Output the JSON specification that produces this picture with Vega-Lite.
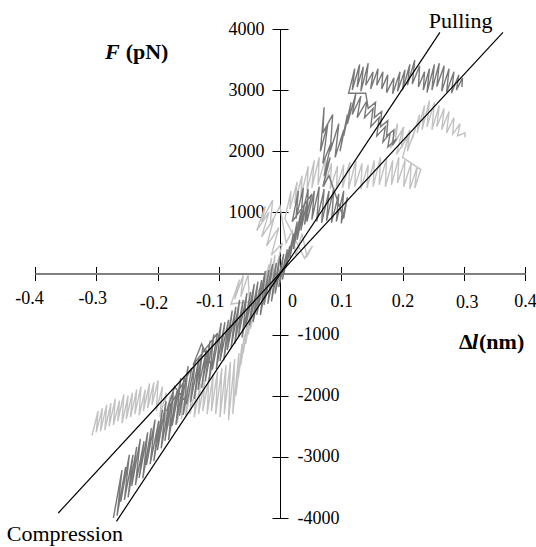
{
"$schema": "https://vega.github.io/schema/vega-lite/v6.json",
"width": 490, "height": 489,
"autosize": {"type": "none"},
"padding": {"left": 35, "top": 29, "right": 11, "bottom": 29},
"background": "white",
"config": {"view": {"stroke": null}, "axis": {"grid": false, "labelFont": "Liberation Serif", "labelFontSize": 18, "labelColor": "black", "title": null, "labelFlush": false, "labelOverlap": false, "labelBound": false}},
"datasets": {
"light": [
{"x":-0.307,"y":-2650},{"x":-0.297,"y":-2250},{"x":-0.300,"y":-2600},{"x":-0.290,"y":-2200},{"x":-0.293,"y":-2580},{"x":-0.283,"y":-2150},{"x":-0.286,"y":-2560},{"x":-0.276,"y":-2120},{"x":-0.279,"y":-2500},{"x":-0.269,"y":-2050},{"x":-0.272,"y":-2480},{"x":-0.262,"y":-2080},{"x":-0.265,"y":-2420},{"x":-0.255,"y":-1980},{"x":-0.258,"y":-2450},{"x":-0.248,"y":-2000},{"x":-0.251,"y":-2380},{"x":-0.241,"y":-1950},{"x":-0.244,"y":-2350},{"x":-0.234,"y":-1900},{"x":-0.237,"y":-2300},{"x":-0.227,"y":-1850},{"x":-0.230,"y":-2320},{"x":-0.220,"y":-1900},{"x":-0.223,"y":-2250},{"x":-0.213,"y":-1800},{"x":-0.216,"y":-2200},{"x":-0.206,"y":-1780},{"x":-0.209,"y":-2150},{"x":-0.199,"y":-1750},
{"x":-0.202,"y":-2250},{"x":-0.192,"y":-1850},{"x":-0.196,"y":-2350},{"x":-0.186,"y":-1950},{"x":-0.189,"y":-2450},{"x":-0.179,"y":-2000},{"x":-0.182,"y":-2500},{"x":-0.172,"y":-2050},{"x":-0.175,"y":-2400},{"x":-0.165,"y":-1950},{"x":-0.168,"y":-2450},{"x":-0.158,"y":-1900},{"x":-0.161,"y":-2380},{"x":-0.151,"y":-1850},{"x":-0.154,"y":-2350},{"x":-0.144,"y":-1800},{"x":-0.147,"y":-2300},{"x":-0.137,"y":-1850},{"x":-0.140,"y":-2350},{"x":-0.130,"y":-1800},{"x":-0.133,"y":-2300},{"x":-0.123,"y":-1750},{"x":-0.126,"y":-2250},{"x":-0.116,"y":-1700},{"x":-0.119,"y":-2300},{"x":-0.109,"y":-1650},{"x":-0.112,"y":-2250},{"x":-0.102,"y":-1600},{"x":-0.105,"y":-2300},{"x":-0.095,"y":-1550},{"x":-0.098,"y":-2350},{"x":-0.088,"y":-1500},{"x":-0.091,"y":-2300},{"x":-0.081,"y":-1450},{"x":-0.084,"y":-2400},{"x":-0.074,"y":-1400},{"x":-0.077,"y":-2300},{"x":-0.067,"y":-1300},
{"x":-0.072,"y":-2000},{"x":-0.062,"y":-1150},{"x":-0.068,"y":-1700},{"x":-0.058,"y":-1000},{"x":-0.064,"y":-1500},{"x":-0.054,"y":-850},{"x":-0.060,"y":-1300},{"x":-0.050,"y":-700},{"x":-0.056,"y":-1150},{"x":-0.046,"y":-550},{"x":-0.052,"y":-1000},{"x":-0.042,"y":-450},
{"x":-0.080,"y":-500},{"x":-0.066,"y":-100},{"x":-0.074,"y":-420},{"x":-0.060,"y":-30},{"x":-0.064,"y":-380},{"x":-0.052,"y":-20},
{"x":-0.048,"y":-900},{"x":-0.038,"y":-350},{"x":-0.044,"y":-780},{"x":-0.034,"y":-250},{"x":-0.040,"y":-650},{"x":-0.030,"y":-150},{"x":-0.036,"y":-550},{"x":-0.026,"y":-50},{"x":-0.032,"y":-450},{"x":-0.022,"y":50},{"x":-0.028,"y":-350},{"x":-0.018,"y":150},{"x":-0.024,"y":-250},{"x":-0.014,"y":250},{"x":-0.018,"y":-150},{"x":-0.008,"y":300},{"x":-0.012,"y":-50},
{"x":-0.006,"y":100},{"x":0.004,"y":500},{"x":-0.014,"y":300},{"x":-0.002,"y":750},{"x":-0.022,"y":450},{"x":-0.010,"y":900},{"x":-0.030,"y":600},{"x":-0.018,"y":1000},{"x":-0.038,"y":700},{"x":-0.024,"y":1100},{"x":-0.030,"y":850},{"x":-0.012,"y":1200},{"x":-0.016,"y":800},{"x":0.000,"y":1100},
{"x":0.010,"y":500},{"x":0.020,"y":700},{"x":0.026,"y":300},{"x":0.036,"y":650},{"x":0.044,"y":280},{"x":0.053,"y":450},{"x":0.040,"y":250},
{"x":0.008,"y":900},{"x":0.018,"y":1350},{"x":0.016,"y":1050},{"x":0.028,"y":1500},{"x":0.024,"y":1150},{"x":0.036,"y":1600},{"x":0.034,"y":1250},{"x":0.046,"y":1750},{"x":0.044,"y":1350},{"x":0.056,"y":1850},{"x":0.052,"y":1400},{"x":0.064,"y":1900},{"x":0.062,"y":1450},{"x":0.074,"y":1880},{"x":0.072,"y":1420},{"x":0.084,"y":1800},{"x":0.082,"y":1380},{"x":0.094,"y":1760},
{"x":0.092,"y":1380},{"x":0.104,"y":1780},{"x":0.102,"y":1400},{"x":0.114,"y":1820},{"x":0.112,"y":1380},{"x":0.124,"y":1850},{"x":0.122,"y":1420},{"x":0.134,"y":1800},{"x":0.132,"y":1380},{"x":0.144,"y":1780},{"x":0.142,"y":1400},{"x":0.154,"y":1850},{"x":0.152,"y":1420},{"x":0.164,"y":1900},{"x":0.162,"y":1450},{"x":0.174,"y":1880},{"x":0.172,"y":1420},{"x":0.184,"y":1850},{"x":0.182,"y":1450},{"x":0.194,"y":1900},{"x":0.192,"y":1480},{"x":0.204,"y":1850},{"x":0.202,"y":1420},{"x":0.214,"y":1800},{"x":0.212,"y":1380},{"x":0.224,"y":1750},{"x":0.220,"y":1400},{"x":0.230,"y":1700},
{"x":0.200,"y":1900},{"x":0.210,"y":2250},{"x":0.190,"y":1950},{"x":0.200,"y":2350},{"x":0.180,"y":2050},{"x":0.192,"y":2450},{"x":0.188,"y":2150},{"x":0.202,"y":2400},{"x":0.198,"y":2050},{"x":0.212,"y":2350},{"x":0.208,"y":2000},{"x":0.222,"y":2400},
{"x":0.216,"y":2200},{"x":0.228,"y":2600},{"x":0.224,"y":2300},{"x":0.236,"y":2750},{"x":0.232,"y":2350},{"x":0.244,"y":2830},{"x":0.240,"y":2400},{"x":0.252,"y":2800},{"x":0.248,"y":2350},{"x":0.260,"y":2750},{"x":0.256,"y":2400},{"x":0.268,"y":2700},{"x":0.264,"y":2350},{"x":0.276,"y":2650},{"x":0.272,"y":2300},{"x":0.284,"y":2550},{"x":0.282,"y":2280},{"x":0.294,"y":2450},{"x":0.290,"y":2250},{"x":0.302,"y":2300},{"x":0.302,"y":2230}
],
"dark": [
{"x":-0.272,"y":-4000},{"x":-0.258,"y":-3216},{"x":-0.266,"y":-3961},{"x":-0.252,"y":-3166},{"x":-0.260,"y":-3732},{"x":-0.246,"y":-2967},{"x":-0.254,"y":-3703},{"x":-0.240,"y":-2967},{"x":-0.248,"y":-3663},{"x":-0.234,"y":-2837},{"x":-0.242,"y":-3473},{"x":-0.228,"y":-2707},{"x":-0.236,"y":-3463},{"x":-0.222,"y":-2747},{"x":-0.230,"y":-3343},{"x":-0.216,"y":-2600},{"x":-0.224,"y":-3353},{"x":-0.210,"y":-2530},{"x":-0.218,"y":-3130},{"x":-0.204,"y":-2390},{"x":-0.212,"y":-3120},{"x":-0.198,"y":-2410},{"x":-0.206,"y":-3070},{"x":-0.192,"y":-2230},{"x":-0.200,"y":-2890},{"x":-0.186,"y":-2093},{"x":-0.194,"y":-2860},{"x":-0.180,"y":-2083},{"x":-0.188,"y":-2737},{"x":-0.174,"y":-1943},{"x":-0.182,"y":-2727},{"x":-0.168,"y":-1903},{"x":-0.176,"y":-2487},{"x":-0.162,"y":-1713},{"x":-0.170,"y":-2477},{"x":-0.156,"y":-1677},{"x":-0.164,"y":-2327},{"x":-0.150,"y":-1517},{"x":-0.158,"y":-2313},{"x":-0.144,"y":-1547},
{"x":-0.185,"y":-2250},{"x":-0.172,"y":-1850},
{"x":-0.152,"y":-2123},{"x":-0.138,"y":-1407},{"x":-0.146,"y":-2103},{"x":-0.132,"y":-1367},{"x":-0.140,"y":-2053},{"x":-0.126,"y":-1217},{"x":-0.134,"y":-1903},{"x":-0.120,"y":-1247},{"x":-0.128,"y":-1873},{"x":-0.114,"y":-1097},{"x":-0.122,"y":-1763},{"x":-0.108,"y":-997},{"x":-0.116,"y":-1763},{"x":-0.102,"y":-977},
{"x":-0.142,"y":-1500},{"x":-0.128,"y":-1150},
{"x":-0.110,"y":-1553},{"x":-0.096,"y":-807},{"x":-0.104,"y":-1563},{"x":-0.090,"y":-797},{"x":-0.098,"y":-1433},{"x":-0.084,"y":-757},{"x":-0.092,"y":-1423},{"x":-0.078,"y":-607},{"x":-0.086,"y":-1253},{"x":-0.072,"y":-547},{"x":-0.080,"y":-1223},{"x":-0.066,"y":-433},{"x":-0.074,"y":-1153},{"x":-0.060,"y":-433},{"x":-0.068,"y":-1037},{"x":-0.054,"y":-323},{"x":-0.062,"y":-1047},{"x":-0.048,"y":-303},{"x":-0.056,"y":-867},{"x":-0.042,"y":-173},{"x":-0.050,"y":-847},{"x":-0.036,"y":-135},{"x":-0.044,"y":-797},{"x":-0.030,"y":-108},{"x":-0.038,"y":-678},{"x":-0.024,"y":40},{"x":-0.032,"y":-680},{"x":-0.018,"y":57},{"x":-0.026,"y":-513},{"x":-0.012,"y":155},{"x":-0.020,"y":-495},{"x":-0.006,"y":172},{"x":-0.014,"y":-458},{"x":0.000,"y":280},{"x":-0.008,"y":-330},{"x":0.006,"y":318},{"x":-0.002,"y":-223},{"x":0.012,"y":395},
{"x":0.004,"y":-100},{"x":0.016,"y":450},{"x":0.010,"y":100},{"x":0.022,"y":650},{"x":0.016,"y":250},{"x":0.028,"y":850},{"x":0.022,"y":400},{"x":0.034,"y":1000},{"x":0.028,"y":550},{"x":0.040,"y":1150},{"x":0.034,"y":700},{"x":0.046,"y":1250},{"x":0.040,"y":800},{"x":0.052,"y":1300},
{"x":0.020,"y":850},{"x":0.030,"y":1350},{"x":0.026,"y":900},{"x":0.038,"y":1400},{"x":0.034,"y":880},{"x":0.046,"y":1380},{"x":0.044,"y":850},{"x":0.056,"y":1350},{"x":0.052,"y":880},{"x":0.064,"y":1420},{"x":0.060,"y":850},{"x":0.072,"y":1380},{"x":0.068,"y":830},{"x":0.080,"y":1350},{"x":0.076,"y":860},{"x":0.088,"y":1400},{"x":0.084,"y":830},{"x":0.096,"y":1300},{"x":0.092,"y":850},{"x":0.104,"y":1350},{"x":0.100,"y":820},{"x":0.110,"y":1250},{"x":0.104,"y":900},
{"x":0.080,"y":1600},{"x":0.070,"y":1420},{"x":0.082,"y":1900},{"x":0.072,"y":1600},{"x":0.084,"y":2150},{"x":0.070,"y":1800},{"x":0.078,"y":2450},{"x":0.066,"y":2000},{"x":0.072,"y":2720},{"x":0.070,"y":2300},{"x":0.086,"y":2600},{"x":0.082,"y":2000},{"x":0.096,"y":2450},{"x":0.090,"y":1900},{"x":0.104,"y":2350},{"x":0.098,"y":2000},{"x":0.110,"y":2600},{"x":0.104,"y":2250},{"x":0.116,"y":2800},{"x":0.110,"y":2450},{"x":0.124,"y":2950},{"x":0.118,"y":2600},{"x":0.132,"y":2900},{"x":0.126,"y":2550},
{"x":0.142,"y":2830},{"x":0.138,"y":2550},{"x":0.152,"y":2700},{"x":0.148,"y":2400},{"x":0.162,"y":2550},{"x":0.158,"y":2250},{"x":0.172,"y":2400},{"x":0.168,"y":2150},{"x":0.180,"y":2300},{"x":0.176,"y":2070},{"x":0.190,"y":2200},
{"x":0.184,"y":2100},{"x":0.186,"y":2350},{"x":0.174,"y":2250},{"x":0.176,"y":2500},{"x":0.164,"y":2400},{"x":0.166,"y":2650},{"x":0.154,"y":2550},{"x":0.156,"y":2800},{"x":0.144,"y":2700},{"x":0.140,"y":2950},
{"x":0.112,"y":2950},{"x":0.122,"y":3350},{"x":0.118,"y":3000},{"x":0.130,"y":3420},{"x":0.126,"y":3050},{"x":0.136,"y":3380},{"x":0.132,"y":2980},{"x":0.144,"y":3440},{"x":0.140,"y":3080},{"x":0.152,"y":3300},{"x":0.148,"y":3020},{"x":0.160,"y":3350},{"x":0.158,"y":3080},{"x":0.168,"y":3300},{"x":0.166,"y":3020},{"x":0.176,"y":3250},{"x":0.174,"y":2960},{"x":0.186,"y":3200},{"x":0.184,"y":2940},{"x":0.196,"y":3300},{"x":0.192,"y":2980},{"x":0.204,"y":3330},{"x":0.200,"y":3000},{"x":0.212,"y":3420},{"x":0.208,"y":3080},{"x":0.220,"y":3490},{"x":0.216,"y":3100},{"x":0.228,"y":3400},{"x":0.226,"y":3050},{"x":0.236,"y":3300},{"x":0.234,"y":3000},{"x":0.244,"y":3350},{"x":0.240,"y":2960},{"x":0.252,"y":3420},{"x":0.248,"y":3000},{"x":0.260,"y":3440},{"x":0.256,"y":3060},{"x":0.268,"y":3400},{"x":0.264,"y":2980},{"x":0.276,"y":3350},{"x":0.272,"y":2960},{"x":0.284,"y":3300},{"x":0.280,"y":2950},{"x":0.292,"y":3250},{"x":0.288,"y":3000},{"x":0.298,"y":3200},{"x":0.297,"y":3050}
],
"fits": [
{"g":"a","x":-0.267,"y":-4055},{"g":"a","x":0.261,"y":3946},
{"g":"b","x":-0.362,"y":-3918},{"g":"b","x":0.364,"y":3946}
],
"plain": [{"t":"Pulling","x":0.243,"y":4012},{"t":"Compression","x":-0.446,"y":-4375}],
"boldit": [{"t":"F","x":-0.2857,"y":3505},{"t":"l","x":0.3135,"y":-1234}],
"bold": [{"t":"(pN)","x":-0.252,"y":3505},{"t":"Δ","x":0.2922,"y":-1234},{"t":"(nm)","x":0.3249,"y":-1234}]
},
"resolve": {"scale": {"x": "shared", "y": "shared"}, "axis": {"x": "independent", "y": "independent"}},
"layer": [
{"data": {"name": "light"}, "mark": {"type": "line", "color": "#c2c2c2", "strokeWidth": 1.4},
 "encoding": {
  "x": {"field": "x", "type": "quantitative", "scale": {"domain": [-0.4, 0.4], "nice": false, "zero": false},
   "axis": {"orient": "bottom", "offset": -244.5, "values": [-0.4,-0.3,-0.2,-0.1,0,0.1,0.2,0.3,0.4], "domainColor": "#808080", "domainWidth": 2, "tickColor": "black", "tickSize": 7, "tickWidth": 1,
    "labelExpr": "datum.value < 0 ? '-' + format(-datum.value, '.1f') : (datum.value == 0 ? '0' : format(datum.value, '.1f'))",
    "labelOffset": {"condition": [{"test": "datum.value == 0", "value": 12}, {"test": "datum.value == -0.1", "value": -9}, {"test": "datum.value == -0.4", "value": -6}, {"test": "datum.value < 0", "value": -4}, {"test": "datum.value == 0.3", "value": 3}], "value": 0},
    "labelPadding": {"condition": [{"test": "datum.value == -0.2", "value": 14}, {"test": "datum.value < -0.25", "value": 9}, {"test": "datum.value == 0.3", "value": 13}], "value": 12}}},
  "y": {"field": "y", "type": "quantitative", "scale": {"domain": [-4000, 4000], "nice": false, "zero": false},
   "axis": {"orient": "left", "offset": -245, "values": [-4000,-3000,-2000,-1000,1000,2000,3000,4000], "domainColor": "black", "domainWidth": 1, "tickColor": "black", "tickSize": 8, "tickWidth": 1, "labelPadding": 8,
    "labelExpr": "datum.value > 0 ? format(datum.value, 'd') : ''"}},
  "order": {"value": null}}},
{"data": {"name": "dark"}, "mark": {"type": "line", "color": "#787878", "strokeWidth": 1.4},
 "encoding": {
  "x": {"field": "x", "type": "quantitative",
   "axis": {"orient": "top", "offset": -244.5, "values": [-0.4,-0.3,-0.2,-0.1,0,0.1,0.2,0.3,0.4], "labels": false, "domainColor": "#808080", "domainWidth": 2, "tickColor": "black", "tickSize": 7, "tickWidth": 1}},
  "y": {"field": "y", "type": "quantitative",
   "axis": {"orient": "right", "offset": -245, "values": [-4000,-3000,-2000,-1000,1000,2000,3000,4000], "domainColor": "black", "domainWidth": 1, "tickColor": "black", "tickSize": 8, "tickWidth": 1, "labelPadding": 9,
    "labelExpr": "datum.value < 0 ? '-' + format(-datum.value, 'd') : ''"}},
  "order": {"value": null}}},
{"data": {"name": "fits"}, "mark": {"type": "line", "color": "black", "strokeWidth": 1.2},
 "encoding": {
  "x": {"field": "x", "type": "quantitative", "axis": null},
  "y": {"field": "y", "type": "quantitative", "axis": null},
  "detail": {"field": "g"}}},
{"data": {"name": "plain"}, "mark": {"type": "text", "font": "Liberation Serif", "fontSize": 22, "align": "left", "baseline": "alphabetic", "color": "black"},
 "encoding": {
  "x": {"field": "x", "type": "quantitative", "axis": null},
  "y": {"field": "y", "type": "quantitative", "axis": null},
  "text": {"field": "t"}}},
{"data": {"name": "boldit"}, "mark": {"type": "text", "font": "Liberation Serif", "fontSize": 22, "fontWeight": "bold", "fontStyle": "italic", "align": "left", "baseline": "alphabetic", "color": "black"},
 "encoding": {
  "x": {"field": "x", "type": "quantitative", "axis": null},
  "y": {"field": "y", "type": "quantitative", "axis": null},
  "text": {"field": "t"}}},
{"data": {"name": "bold"}, "mark": {"type": "text", "font": "Liberation Serif", "fontSize": 22, "fontWeight": "bold", "align": "left", "baseline": "alphabetic", "color": "black"},
 "encoding": {
  "x": {"field": "x", "type": "quantitative", "axis": null},
  "y": {"field": "y", "type": "quantitative", "axis": null},
  "text": {"field": "t"}}}
]
}
